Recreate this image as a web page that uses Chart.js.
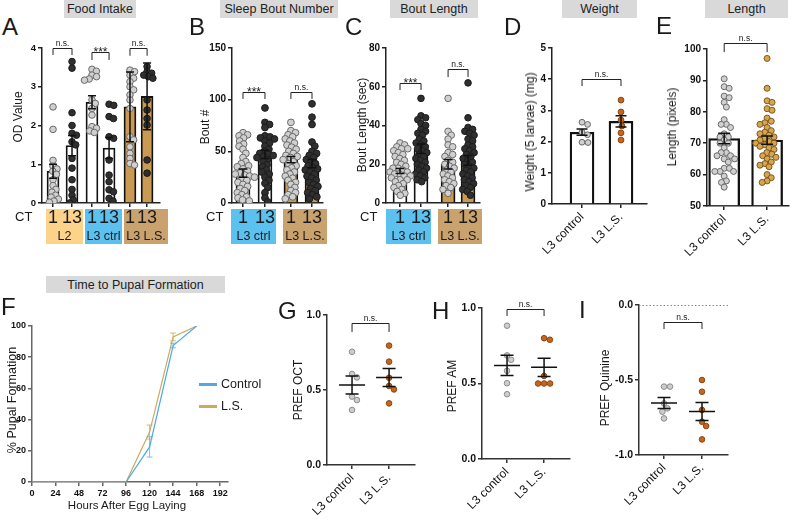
<!DOCTYPE html>
<html><head><meta charset="utf-8">
<script src="https://cdn.jsdelivr.net/npm/chart.js@4.4.1/dist/chart.umd.min.js"></script>
<style>
html,body{margin:0;padding:0;background:#fff;}
#root{position:relative;width:793px;height:521px;overflow:hidden;font-family:'Liberation Sans',Arial,sans-serif;color:#1a1a1a;}
canvas{position:absolute;}
.t{position:absolute;white-space:nowrap;line-height:1;z-index:2;}
.ttl{position:absolute;background:#d9d9d9;font-size:12.5px;display:flex;align-items:center;justify-content:center;white-space:nowrap;color:#222;}
.let{position:absolute;font-size:24px;line-height:24px;z-index:2;}
.yl{position:absolute;font-size:12px;line-height:1;white-space:nowrap;transform:translate(-50%,-50%) rotate(-90deg);z-index:2;}
.box{position:absolute;z-index:1;}
</style></head>
<body><div id="root"></div>
<script>
// ================= DATA =================
// A - Food intake (OD value)
const foodGroups = ['L2', 'L3 ctrl', 'L3 L.S.'];
const ctTimes = ['1', '13'];
const foodMean = [0.82, 1.48, 2.60, 1.42, 2.48, 2.75];
const foodSem  = [0.18, 0.26, 0.17, 0.27, 0.90, 0.86];
const foodPoints = [
  [2.48, 1.90, 1.10, 0.95, 0.88, 0.82, 0.74, 0.60, 0.45, 0.35, 0.28, 0.20, 0.15, 0.10, 0.05, 0.02],
  [3.65, 3.48, 2.33, 2.00, 1.80, 1.75, 1.58, 1.50, 1.15, 0.90, 0.60, 0.35, 0.20, 0.08, 0.00],
  [3.45, 3.40, 3.30, 3.26, 3.20, 3.17, 2.66, 2.57, 2.44, 2.27, 1.97, 1.93, 1.86, 1.82],
  [2.55, 2.52, 2.23, 2.18, 1.71, 1.67, 1.11, 0.72, 0.55, 0.34, 0.29, 0.12, 0.05],
  [3.43, 3.39, 3.30, 3.22, 3.13, 3.00, 2.92, 2.79, 2.66, 2.44, 1.71, 1.63, 1.45, 1.28, 1.15, 1.02, 0.98],
  [3.52, 3.39, 3.35, 3.30, 3.26, 3.22, 2.66, 2.40, 2.18, 2.01, 1.11, 0.77]
];
const foodSig = ['n.s.', '***', 'n.s.'];

// B - Sleep bout number
const sleepGroups = ['L3 ctrl', 'L3 L.S.'];
const boutNumMean = [29, 47, 42, 38];
const boutNumSem  = [4, 4, 3, 4];
const boutNumPoints = [
  [68, 66, 65, 63, 60, 57, 55, 52, 48, 44, 40, 38, 36, 35, 33, 31, 29, 28, 27, 26, 25, 23, 22, 20, 18, 16, 14, 12, 10, 8, 6, 5, 3, 2],
  [92, 78, 76, 73, 65, 64, 63, 62, 60, 58, 55, 52, 50, 48, 47, 46, 45, 44, 42, 40, 37, 35, 32, 30, 28, 25, 22, 19, 15, 10, 5, 1],
  [78, 70, 68, 66, 64, 62, 60, 58, 56, 54, 52, 50, 48, 46, 45, 44, 42, 40, 38, 36, 34, 32, 30, 28, 26, 24, 22, 20, 18, 15, 12, 10, 8, 6, 4],
  [96, 83, 76, 59, 55, 50, 48, 46, 44, 42, 40, 38, 36, 34, 33, 32, 30, 28, 26, 24, 22, 20, 18, 16, 14, 12, 10, 8, 6, 4]
];
const boutNumSig = ['***', 'n.s.'];

// C - Bout length (sec)
const boutLenMean = [16.5, 28, 20, 22];
const boutLenSem  = [1.3, 2.5, 2.5, 2.5];
const boutLenPoints = [
  [31, 30, 29, 28, 28, 27, 26, 25, 24, 23, 22, 21, 20, 19, 18, 18, 17, 16, 16, 15, 15, 14, 14, 13, 12, 12, 11, 10, 9, 8, 7, 6, 5, 4],
  [54, 45, 44, 43, 41, 40, 38, 37, 36, 35, 33, 32, 31, 30, 29, 28, 27, 26, 25, 24, 23, 22, 21, 20, 19, 18, 17, 16, 15, 14, 13, 12, 11],
  [54, 37, 35, 33, 30, 29, 26, 25, 24, 22, 21, 20, 19, 18, 17, 16, 15, 14, 13, 12, 11, 10, 9, 8, 7, 5],
  [62, 44, 39, 38, 37, 36, 35, 33, 32, 30, 29, 28, 27, 26, 25, 24, 23, 22, 21, 20, 19, 18, 17, 16, 15, 14, 13, 12, 11, 10, 9, 8, 7, 6, 4]
];
const boutLenSig = ['***', 'n.s.'];

// D - Weight, E - Length, G/H/I - preference
const larvaGroups = ['L3 control', 'L3 L.S.'];
const weightMean = [2.30, 2.65];
const weightSem  = [0.10, 0.18];
const weightPoints = [[2.62, 2.55, 2.30, 2.22, 1.98, 1.97], [3.33, 2.95, 2.69, 2.50, 2.28, 2.05]];
const lengthMean = [71.5, 71.0];
const lengthSem  = [1.7, 1.3];
const lengthPoints = [
  [90.5, 88, 87.5, 85, 84.5, 83, 81.5, 77.5, 76, 76, 75, 73, 72, 72, 71, 70, 70, 68.5, 67, 67, 66, 66, 65, 65, 64, 62, 62, 61, 61, 61, 59.5, 58, 57.5, 56],
  [97, 87.5, 83.5, 83, 81, 80.5, 78, 77, 76.5, 76, 75, 74, 73.5, 73, 72.5, 72, 71.5, 71, 70.5, 70, 70, 69.5, 69, 68.5, 68, 67, 66.5, 66, 65.5, 65, 64, 63.5, 63, 62.5, 60, 59, 58, 57.5]
];

// F - Time to pupal formation
const pupalHours = [0, 24, 48, 72, 96, 120, 144, 168];
const hourTicks = [0, 24, 48, 72, 96, 120, 144, 168, 192];
const pupalControl    = [0, 0, 0, 0, 0, 22.5, 87.5, 100];
const pupalControlErr = [0, 0, 0, 0, 0, 6.5, 1.5, 0];
const pupalLS         = [0, 0, 0, 0, 0, 32, 93, 100];
const pupalLSErr      = [0, 0, 0, 0, 0, 4.5, 2.5, 0];
const pupalSeries = ['Control', 'L.S.'];

const octPoints = [[0.755, 0.607, 0.584, 0.456, 0.433, 0.367], [0.796, 0.689, 0.582, 0.527, 0.504, 0.411]];
const octMean = [0.533, 0.584];
const octSem  = [0.060, 0.060];
const amPoints = [[0.883, 0.686, 0.657, 0.584, 0.502, 0.429], [0.80, 0.79, 0.55, 0.50, 0.50, 0.50]];
const amMean = [0.620, 0.607];
const amSem  = [0.067, 0.060];
const quinPoints = [[-0.544, -0.544, -0.656, -0.689, -0.711, -0.756], [-0.50, -0.578, -0.70, -0.778, -0.807, -0.896]];
const quinMean = [-0.653, -0.710];
const quinSem  = [0.037, 0.060];

const panelTitles = ['Food Intake', 'Sleep Bout Number', 'Bout Length', 'Weight', 'Length', 'Time to Pupal Formation'];
const yTitles = ['OD Value', 'Bout #', 'Bout Length (sec)', 'Weight (5 larvae) (mg)', 'Length (pixels)', '% Pupal Formation', 'PREF OCT', 'PREF AM', 'PREF Quinine'];
const xTitleF = 'Hours After Egg Laying';

// ================= STYLE / LAYOUT =================
const FONT = "'Liberation Sans', Arial, sans-serif";
Chart.defaults.font.family = FONT;
Chart.defaults.color = '#111';
const GRAY = {bg:'#d0d0d0', bd:'#6a6a6a'};
const DARK = {bg:'#2f2f2f', bd:'#1c1c1c'};
const ORANGE = {bg:'#c4661f', bd:'#8a4512'};
const GOLD = {bg:'#d8a44e', bd:'#7a5a22'};
const LIGHT = {bg:'#cdcdcd', bd:'#8c8c8c'};
const LS_BAR = '#c99a52';
const BOX_COL = {'L2':'#fdd38a', 'L3 ctrl':'#5cc1ee', 'L3 L.S.':'#c9a26d'};
const CTRL_LINE = '#4fa8e8', LS_LINE = '#cbaa5e';

const root = document.getElementById('root');
function el(cls, txt, css) {
  const d = document.createElement('div'); d.className = cls; d.textContent = txt;
  for (const k in css) d.style[k] = css[k];
  root.appendChild(d); return d;
}
const px = v => v + 'px';

function beeswarm(py, d) {
  const order = py.map((_, i) => i).sort((a, b) => py[a] - py[b]);
  const placed = [], out = new Array(py.length);
  for (const i of order) {
    const y = py[i];
    const cands = [0];
    for (const q of placed) {
      const dy = Math.abs(q.y - y);
      if (dy < d) { const dx = Math.sqrt(d * d - dy * dy); cands.push(q.x + dx, q.x - dx); }
    }
    cands.sort((a, b) => Math.abs(a) - Math.abs(b));
    let best = 0;
    for (const c of cands) {
      if (placed.every(q => (q.x - c) ** 2 + (q.y - y) ** 2 >= d * d - 0.01)) { best = c; break; }
    }
    placed.push({x: best, y}); out[i] = best;
  }
  return out;
}

function annot(spec) {
  return {
    id: 'annot',
    beforeDatasetsDraw(chart) {
      if (!spec.zeroLine) return;
      const {ctx, chartArea: a, scales: {y}} = chart;
      const py = Math.round(y.getPixelForValue(0)) + 0.5;
      ctx.save(); ctx.strokeStyle = '#888'; ctx.lineWidth = 1; ctx.setLineDash([1.5, 2]);
      ctx.beginPath(); ctx.moveTo(a.left, py); ctx.lineTo(a.right, py); ctx.stroke(); ctx.restore();
    },
    afterDatasetsDraw(chart) {
      const {ctx, scales: {x, y}} = chart;
      ctx.save();
      for (const e of spec.errors || []) {
        const xp = x.getPixelForValue(e.x);
        const top = y.getPixelForValue(e.mean + e.sem), bot = y.getPixelForValue(e.mean - e.sem), mid = y.getPixelForValue(e.mean);
        ctx.strokeStyle = e.color || '#111'; ctx.lineWidth = e.lw || 1.5;
        const c = (e.cap || 8) / 2;
        ctx.beginPath();
        ctx.moveTo(xp, top); ctx.lineTo(xp, bot);
        ctx.moveTo(xp - c, top); ctx.lineTo(xp + c, top);
        ctx.moveTo(xp - c, bot); ctx.lineTo(xp + c, bot);
        if (e.meanW) { ctx.moveTo(xp - e.meanW / 2, mid); ctx.lineTo(xp + e.meanW / 2, mid); }
        ctx.stroke();
      }
      for (const b of spec.brackets || []) {
        const x1 = x.getPixelForValue(b.x1), x2 = x.getPixelForValue(b.x2);
        const yt = Math.round(y.getPixelForValue(b.y)) + 0.5, yl = y.getPixelForValue(b.leg);
        ctx.strokeStyle = '#222'; ctx.lineWidth = 1;
        ctx.beginPath(); ctx.moveTo(x1, yl); ctx.lineTo(x1, yt); ctx.lineTo(x2, yt); ctx.lineTo(x2, yl); ctx.stroke();
        ctx.fillStyle = '#222'; ctx.textAlign = 'center'; ctx.textBaseline = 'alphabetic';
        if (b.text === '***') { ctx.font = '12px ' + FONT; ctx.fillText(b.text, (x1 + x2) / 2, yt + 3.5); }
        else { ctx.font = '8.5px ' + FONT; ctx.fillText(b.text, (x1 + x2) / 2, yt - 2.5); }
      }
      ctx.restore();
    }
  };
}

function yScale(o, w) {
  const t = {stepSize: o.step, font: {size: o.font || 10, weight: 'bold'}, color: '#111', padding: 2};
  if (o.fmt) t.callback = o.fmt;
  const ac = o.axisColor || '#222';
  return {
    type: 'linear', position: 'left', min: o.min, max: o.max, ticks: t,
    grid: {drawOnChartArea: false, tickLength: 4, color: ac, lineWidth: 1.5},
    border: {display: true, color: ac, width: 1.5},
    afterFit(s) { s.width = w; s.paddingTop = 0; s.paddingBottom = 0; s.paddingLeft = 0; s.paddingRight = 0; }
  };
}
function xScale(o, h) {
  const ac = o.axisColor || '#222';
  return {
    type: 'linear', position: 'bottom', min: o.min, max: o.max, offset: false,
    afterBuildTicks(s) { s.ticks = o.ticks.map(v => ({value: v})); },
    ticks: {autoSkip: false, maxRotation: o.rot || 0, minRotation: o.rot || 0,
      font: o.font || {size: 12}, color: '#111', padding: o.pad === undefined ? 2 : o.pad,
      callback: (v, i) => o.labels ? o.labels[i] : ''},
    grid: {drawOnChartArea: false, offset: false, tickLength: 4, color: ac, lineWidth: 1.5},
    border: {display: true, color: ac, width: 1.5},
    afterFit(s) { s.height = h; s.paddingLeft = 0; s.paddingRight = 0; s.paddingTop = 0; s.paddingBottom = 0; }
  };
}

function makeChart(p) {
  const cv = document.createElement('canvas');
  cv.width = p.canvas.w; cv.height = p.canvas.h;
  Object.assign(cv.style, {left: px(p.canvas.x), top: px(p.canvas.y), width: px(p.canvas.w), height: px(p.canvas.h)});
  root.appendChild(cv);
  const yw = p.area.l - p.canvas.x, padTop = p.area.t - p.canvas.y;
  const padRight = p.canvas.x + p.canvas.w - p.area.r, xh = p.canvas.y + p.canvas.h - p.area.b;
  const chart = new Chart(cv, {
    type: p.type || 'bar',
    data: {datasets: p.datasets},
    options: {
      responsive: false, maintainAspectRatio: false, animation: false, devicePixelRatio: 1, events: [],
      layout: {padding: {top: padTop, right: padRight, left: 0, bottom: 0}},
      plugins: {legend: {display: false}, tooltip: {enabled: false}},
      scales: {x: xScale(p.x, xh), y: yScale(p.y, yw)}
    },
    plugins: [annot(p.annot || {})]
  });
  if (p.swarm) {
    const xs = chart.scales.x, ys = chart.scales.y;
    const unit = xs.getPixelForValue(1) - xs.getPixelForValue(0);
    p.swarm.forEach(sw => {
      const py = sw.values.map(v => ys.getPixelForValue(v));
      const off = beeswarm(py, sw.d);
      chart.data.datasets[sw.ds].data = sw.values.map((v, i) => ({x: sw.pos + off[i] / unit, y: v}));
    });
    chart.update('none');
  }
  return chart;
}
function barDs(pos, means, colors, thick, bw, base) {
  const d = {type: 'bar', data: pos.map((x, i) => ({x, y: means[i]})), backgroundColor: colors,
    borderColor: '#111', borderWidth: bw, barThickness: thick, order: 2};
  if (base !== undefined) d.base = base;
  return d;
}
function ptDs(pos, vals, st, r) {
  return {type: 'scatter', data: vals.map(v => ({x: pos, y: v})), pointRadius: r, pointHoverRadius: r,
    pointBackgroundColor: st.bg, pointBorderColor: st.bd, pointBorderWidth: 1, showLine: false, order: 1};
}
function barPanel(p) {
  const ds = [barDs(p.pos, p.means, p.colors, p.thick, p.bw, p.base)];
  p.points.forEach((v, i) => ds.push(ptDs(p.pos[i], v, p.styles[i], p.r)));
  const brackets = p.sig.map((s, g) => ({x1: p.pos[2 * g], x2: p.pos[2 * g + 1], y: p.br[g][0], leg: p.br[g][1], text: s}));
  return makeChart({
    canvas: p.canvas, area: p.area, x: p.x, y: p.y, datasets: ds,
    swarm: p.points.map((v, i) => ({ds: i + 1, pos: p.pos[i], values: v, d: p.d})),
    annot: {errors: p.pos.map((x, i) => ({x, mean: p.means[i], sem: p.sems[i], cap: p.cap})), brackets}
  });
}
function dotPanel(p) {
  const pos = [0, 1];
  const ds = p.points.map((v, i) => ptDs(pos[i], v, i ? ORANGE : LIGHT, 2.8));
  return makeChart({
    type: 'scatter', canvas: p.canvas, area: p.area,
    x: {min: p.xmin, max: p.xmax, ticks: pos, labels: larvaGroups, rot: 45, font: {size: 12}, axisColor: '#333'},
    y: {min: p.y[0], max: p.y[1], step: 0.5, font: 10.5, fmt: v => v.toFixed(1), axisColor: '#333'},
    datasets: ds,
    swarm: p.points.map((v, i) => ({ds: i, pos: pos[i], values: v, d: 6})),
    annot: {zeroLine: p.zeroLine,
      errors: pos.map((x, i) => ({x, mean: p.mean[i], sem: p.sem[i], cap: 13, meanW: 26, lw: 1.5})),
      brackets: [{x1: 0, x2: 1, y: p.br[0], leg: p.br[1], text: 'n.s.'}]}
  });
}

// ================= CHARTS =================
const FOOD_POS = [0, 1, 2.05, 2.95, 4.05, 4.95];
barPanel({canvas: {x: 20, y: 30, w: 160, h: 220}, area: {l: 42, t: 48, r: 160, b: 203},
  x: {min: -0.58, max: 5.63, ticks: FOOD_POS}, y: {min: 0, max: 4, step: 1, font: 9.5},
  pos: FOOD_POS, means: foodMean, sems: foodSem, points: foodPoints,
  colors: ['#fff', '#fff', '#fff', '#fff', LS_BAR, LS_BAR], styles: [GRAY, DARK, GRAY, DARK, GRAY, DARK],
  thick: 12, bw: 1.8, r: 3.3, d: 4.8, cap: 8, sig: foodSig, br: [[4.0, 3.82], [3.9, 3.69], [4.0, 3.8]]});

const SLEEP_POS = [0, 1, 2.18, 3.14];
barPanel({canvas: {x: 205, y: 30, w: 135, h: 220}, area: {l: 232, t: 48, r: 323, b: 203},
  x: {min: -0.5, max: 3.64, ticks: SLEEP_POS}, y: {min: 0, max: 150, step: 50, font: 10},
  pos: SLEEP_POS, means: boutNumMean, sems: boutNumSem, points: boutNumPoints,
  colors: ['#fff', '#fff', LS_BAR, LS_BAR], styles: [GRAY, DARK, GRAY, DARK],
  thick: 14, bw: 1.8, r: 3.4, d: 5.0, cap: 9, sig: boutNumSig, br: [[107.5, 100.7], [107.5, 100.7]]});

const LEN_POS = [0, 1, 2.29, 3.24];
barPanel({canvas: {x: 366, y: 30, w: 129, h: 220}, area: {l: 386, t: 48, r: 480, b: 203},
  x: {min: -0.667, max: 3.81, ticks: LEN_POS}, y: {min: 0, max: 80, step: 20, font: 10},
  pos: LEN_POS, means: boutLenMean, sems: boutLenSem, points: boutLenPoints,
  colors: ['#fff', '#fff', LS_BAR, LS_BAR], styles: [GRAY, DARK, GRAY, DARK],
  thick: 14, bw: 1.8, r: 3.3, d: 5.0, cap: 9, sig: boutLenSig, br: [[62, 58.3], [69.2, 65]]});

barPanel({canvas: {x: 535, y: 30, w: 120, h: 270}, area: {l: 552, t: 48, r: 647, b: 204},
  x: {min: -0.77, max: 1.667, ticks: [0, 1], labels: larvaGroups, rot: 45, font: {size: 12}},
  y: {min: 0, max: 5, step: 1, font: 10},
  pos: [0, 1], means: weightMean, sems: weightSem, points: weightPoints,
  colors: ['#fff', '#fff'], styles: [GRAY, ORANGE],
  thick: 24, bw: 2.3, r: 2.9, d: 6, cap: 11, sig: ['n.s.'], br: [[4.0, 3.78]]});

barPanel({canvas: {x: 678, y: 30, w: 115, h: 270}, area: {l: 707, t: 49, r: 793, b: 206},
  x: {min: -0.4, max: 1.51, ticks: [0, 1], labels: larvaGroups, rot: 45, font: {size: 12}},
  y: {min: 50, max: 100, step: 10, font: 10},
  pos: [0, 1], means: lengthMean, sems: lengthSem, points: lengthPoints, base: 50,
  colors: ['#fff', '#fff'], styles: [GRAY, GOLD],
  thick: 31, bw: 2.3, r: 3.0, d: 5.2, cap: 12, sig: ['n.s.'], br: [[101.9, 99]]});

// F line chart
const fErrors = [];
pupalHours.forEach((h, i) => {
  if (pupalControlErr[i] > 0) fErrors.push({x: h, mean: pupalControl[i], sem: pupalControlErr[i], color: 'rgba(79,168,232,0.75)', cap: 6, lw: 1});
  if (pupalLSErr[i] > 0) fErrors.push({x: h, mean: pupalLS[i], sem: pupalLSErr[i], color: 'rgba(203,170,94,0.8)', cap: 6, lw: 1});
});
makeChart({type: 'line', canvas: {x: 8, y: 310, w: 232, h: 190}, area: {l: 32, t: 326, r: 228, b: 482},
  x: {min: 0, max: 200, ticks: hourTicks, labels: hourTicks.map(String), font: {size: 9, weight: 'bold'}, pad: 2, axisColor: '#666'},
  y: {min: 0, max: 100, step: 20, font: 9, axisColor: '#666'},
  datasets: [
    {type: 'line', label: pupalSeries[0], data: pupalHours.map((h, i) => ({x: h, y: pupalControl[i]})), borderColor: CTRL_LINE, borderWidth: 1.2, pointRadius: 0, fill: false, tension: 0},
    {type: 'line', label: pupalSeries[1], data: pupalHours.map((h, i) => ({x: h, y: pupalLS[i]})), borderColor: LS_LINE, borderWidth: 1.2, pointRadius: 0, fill: false, tension: 0}
  ],
  annot: {errors: fErrors}});

dotPanel({canvas: {x: 305, y: 300, w: 120, h: 221}, area: {l: 327, t: 315, r: 415, b: 465}, xmin: -0.676, xmax: 1.70,
  y: [0, 1], points: octPoints, mean: octMean, sem: octSem, br: [0.947, 0.887]});
dotPanel({canvas: {x: 460, y: 295, w: 120, h: 226}, area: {l: 482, t: 308, r: 570, b: 459}, xmin: -0.676, xmax: 1.70,
  y: [0, 1], points: amPoints, mean: amMean, sem: amSem, br: [0.993, 0.947]});
dotPanel({canvas: {x: 612, y: 295, w: 128, h: 226}, area: {l: 639, t: 305, r: 728, b: 455}, xmin: -0.658, xmax: 1.684,
  y: [-1, 0], points: quinPoints, mean: quinMean, sem: quinSem, br: [-0.113, -0.16], zeroLine: true});

// ================= TEXT / ANNOTATIONS =================
const titleBoxes = [[64, 136, 0, 18], [220, 338, 0, 18], [390, 478, 0, 18], [562, 637, 0, 18], [705, 788, 0, 18], [46, 225, 276, 293]];
panelTitles.forEach((t, i) => { const [x1, x2, y1, y2] = titleBoxes[i];
  el('ttl', t, {left: px(x1), top: px(y1), width: px(x2 - x1), height: px(y2 - y1)}); });

[['A', 3, 18], ['B', 190, 18], ['C', 346, 18], ['D', 505, 18], ['E', 657, 17], ['F', 2, 298], ['G', 279, 302], ['H', 433, 302], ['I', 580, 301]]
  .forEach(([L, x, y]) => el('let', L, {left: px(x - 1), top: px(y - 3)}));

const yTitlePos = [[18, 117], [205, 127], [362, 125], [530, 132], [672, 127], [12, 400], [298, 390], [452, 386], [605, 388]];
yTitles.forEach((t, i) => el('yl', t, {left: px(yTitlePos[i][0]), top: px(yTitlePos[i][1]), fontSize: i === 5 ? '12.5px' : '12px'}));
el('t', xTitleF, {left: '127px', top: '500px', fontSize: '11.5px', transform: 'translateX(-50%)'});

// legend F
[[CTRL_LINE, 384], [LS_LINE, 406]].forEach(([c, y], i) => {
  el('box', '', {left: '199px', top: px(y - 1.5), width: '18px', height: '3px', background: c});
  el('t', pupalSeries[i], {left: '221px', top: px(y - 6), fontSize: '12.5px'});
});

// CT strips
function strip(ctX, boxes) {
  el('t', 'CT', {left: px(ctX), top: '210px', fontSize: '13px'});
  boxes.forEach(b => {
    el('box', '', {left: px(b[0]), top: '209px', width: px(b[1] - b[0]), height: '35px', background: BOX_COL[b[2]]});
    ctTimes.forEach((t, k) => el('t', t, {left: px(b[3 + k]), top: '208px', fontSize: '18px', transform: 'translateX(-50%)'}));
    el('t', b[2], {left: px((b[0] + b[1]) / 2), top: '229.5px', fontSize: '12.5px', transform: 'translateX(-50%)'});
  });
}
strip(15, [[46, 83, foodGroups[0], 53, 72], [85, 122, foodGroups[1], 92, 109], [124, 168, foodGroups[2], 130, 147]]);
strip(206, [[231, 276, sleepGroups[0], 243, 265], [283, 327, sleepGroups[1], 291, 312]]);
strip(360, [[386, 431, sleepGroups[0], 400, 421], [438, 482, sleepGroups[1], 448, 468]]);
</script>
</body></html>
